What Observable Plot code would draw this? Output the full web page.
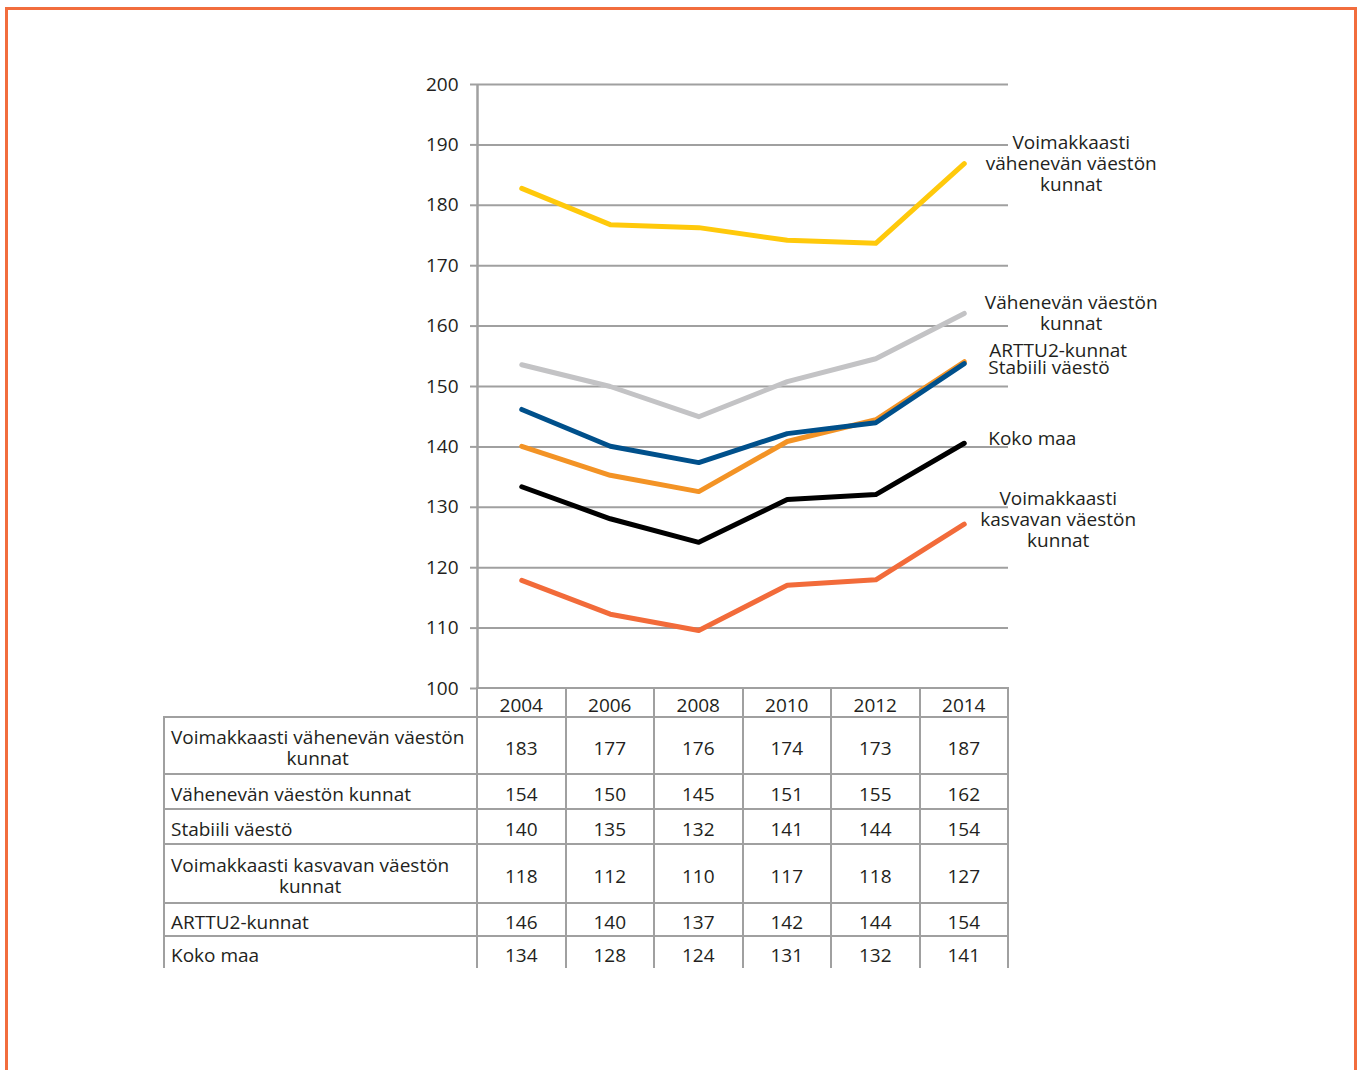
<!DOCTYPE html>
<html>
<head>
<meta charset="utf-8">
<script src="https://cdn.jsdelivr.net/npm/d3@7"></script>
<script src="https://cdn.jsdelivr.net/npm/@observablehq/plot@0.6"></script>
<style>
  body { margin: 0; background: #fff; }
  #wrap { position: relative; width: 1357px; height: 1070px; overflow: hidden;
          font-family: "Open Sans", sans-serif; color: #231f20; background: #fff; }
  #frame { position: absolute; left: 5px; top: 7px; width: 1352px; height: 1200px;
           border: 3px solid #f26d3d; border-bottom: none; box-sizing: border-box; }
  #wrap svg { position: absolute; left: 0; top: 0; }
  .cell { position: absolute; box-sizing: border-box; border-left: 2px solid #a0a0a0;
          border-top: 2px solid #a0a0a0; display: flex; align-items: center;
          font-size: 19px; line-height: 21px; background: #fff; padding-top: 5px; }
  .num { justify-content: center; }
  .lab { padding-left: 6px; }
  .lab span { display: inline-block; text-align: center; white-space: pre; }
  .last { border-right: 2px solid #a0a0a0; }
</style>
</head>
<body>
<div id="wrap"><div id="frame"></div></div>
<script>
// ---- data ----
const years = ["2004", "2006", "2008", "2010", "2012", "2014"];
const seriesNames = [
  "Voimakkaasti vähenevän väestön kunnat",
  "Vähenevän väestön kunnat",
  "Stabiili väestö",
  "Voimakkaasti kasvavan väestön kunnat",
  "ARTTU2-kunnat",
  "Koko maa"
];
// plotted line values (unrounded, as drawn)
const voimVahenevan = [182.8, 176.8, 176.3, 174.2, 173.7, 186.9];
const vahenevan     = [153.6, 150.0, 145.0, 150.8, 154.6, 162.1];
const stabiili      = [140.1, 135.3, 132.6, 140.9, 144.5, 154.1];
const voimKasvavan  = [117.9, 112.3, 109.6, 117.1, 118.0, 127.2];
const arttu2        = [146.2, 140.1, 137.4, 142.2, 144.0, 153.8];
const kokoMaa       = [133.4, 128.1, 124.2, 131.3, 132.1, 140.6];
// table values (as printed)
const tVoimVahenevan = [183, 177, 176, 174, 173, 187];
const tVahenevan     = [154, 150, 145, 151, 155, 162];
const tStabiili      = [140, 135, 132, 141, 144, 154];
const tVoimKasvavan  = [118, 112, 110, 117, 118, 127];
const tArttu2        = [146, 140, 137, 142, 144, 154];
const tKokoMaa       = [134, 128, 124, 131, 132, 141];
const chartLabels = [
  "Voimakkaasti\nvähenevän väestön\nkunnat",
  "Vähenevän väestön\nkunnat",
  "Stabiili väestö",
  "Voimakkaasti\nkasvavan väestön\nkunnat",
  "ARTTU2-kunnat",
  "Koko maa"
];
const tableLabels = [
  "Voimakkaasti vähenevän väestön\nkunnat",
  "Vähenevän väestön kunnat",
  "Stabiili väestö",
  "Voimakkaasti kasvavan väestön\nkunnat",
  "ARTTU2-kunnat",
  "Koko maa"
];
const yTicks = [100, 110, 120, 130, 140, 150, 160, 170, 180, 190, 200];

// ---- styling / layout ----
const colors = ["#ffc90b", "#c3c3c5", "#f39325", "#f26b3a", "#00508b", "#000000"];
const lineValues = [voimVahenevan, vahenevan, stabiili, voimKasvavan, arttu2, kokoMaa];
const tableValues = [tVoimVahenevan, tVahenevan, tStabiili, tVoimKasvavan, tArttu2, tKokoMaa];
const labelPlacement = [
  {dx: 107, dy: 0, anchor: "middle"},
  {dx: 107, dy: -1, anchor: "middle"},
  {dx: 24, dy: 6, anchor: "start"},
  {dx: 94, dy: -5, anchor: "middle"},
  {dx: 94, dy: -13, anchor: "middle"},
  {dx: 24, dy: -5, anchor: "start"}
];

const rows = [];
seriesNames.forEach((s, i) => years.forEach((y, j) => rows.push({series: s, year: y, value: lineValues[i][j]})));

const W = 1357, H = 1070;
const fL = 477, fR = 1008, fT = 84, fB = 688;
const stepPx = (fR - fL) / years.length;
const grid = "#a0a0a0";

const labelMarks = seriesNames.map((s, i) => {
  const p = labelPlacement[i];
  return Plot.text([s], {
    x: () => years[years.length - 1],
    y: () => lineValues[i][years.length - 1],
    text: () => chartLabels[i],
    dx: p.dx, dy: p.dy, textAnchor: p.anchor, lineAnchor: "middle",
    lineHeight: 1.1, fill: "#231f20", fontSize: 19
  });
});

const plot = Plot.plot({
  width: W, height: H,
  marginLeft: fL, marginRight: W - fR, marginTop: fT, marginBottom: H - fB,
  style: {fontFamily: "Open Sans, sans-serif", fontSize: "19px", color: "#231f20", background: "transparent", overflow: "visible"},
  x: {type: "point", domain: years, padding: 0.5, round: false, axis: null},
  y: {domain: [100, 200], axis: null},
  color: {domain: seriesNames, range: colors},
  marks: [
    Plot.gridY(yTicks, {stroke: grid, strokeOpacity: 1, strokeWidth: 2}),
    Plot.axisY(yTicks, {tickSize: 7, tickPadding: 12, stroke: grid, strokeWidth: 2, fill: "#231f20", fontSize: 19, label: null, tickFormat: d => d}),
    Plot.ruleX([years[0]], {dx: -stepPx / 2, y1: 100, y2: 200, stroke: grid, strokeWidth: 2.5}),
    Plot.line(rows, {x: "year", y: "value", z: "series", stroke: "series", strokeWidth: 5, strokeLinecap: "round", strokeLinejoin: "round"}),
    ...labelMarks
  ]
});
const wrap = document.getElementById("wrap");
wrap.appendChild(plot);

// ---- data table below the chart, aligned with the x scale ----
const xs = plot.scale("x");
const step = xs.apply(years[1]) - xs.apply(years[0]);
const colLeft = years.map(y => xs.apply(y) - step / 2);
const tableLeft = 163;
const headerTop = fB, headerH = 28;
const rowHeights = [57, 35, 35, 59, 33, 33];

function cell(x, y, w, h, cls, content) {
  const d = document.createElement("div");
  d.className = "cell " + cls;
  d.style.left = x + "px"; d.style.top = y + "px";
  d.style.width = w + "px"; d.style.height = h + "px";
  if (cls.includes("lab")) {
    const sp = document.createElement("span");
    sp.textContent = content;
    d.appendChild(sp);
  } else d.textContent = content;
  wrap.appendChild(d);
}
years.forEach((y, j) => {
  cell(colLeft[j] - 1, headerTop - 1, step + (j === years.length - 1 ? 2 : 0), headerH + 1,
       "num" + (j === years.length - 1 ? " last" : ""), y);
});
let rowTop = headerTop + headerH;
tableLabels.forEach((lab, i) => {
  const h = rowHeights[i];
  cell(tableLeft, rowTop, colLeft[0] - tableLeft - 1, h, "lab", lab);
  years.forEach((y, j) => {
    cell(colLeft[j] - 1, rowTop, step + (j === years.length - 1 ? 2 : 0), h,
         "num" + (j === years.length - 1 ? " last" : ""), String(tableValues[i][j]));
  });
  rowTop += h;
});
</script>
</body>
</html>
